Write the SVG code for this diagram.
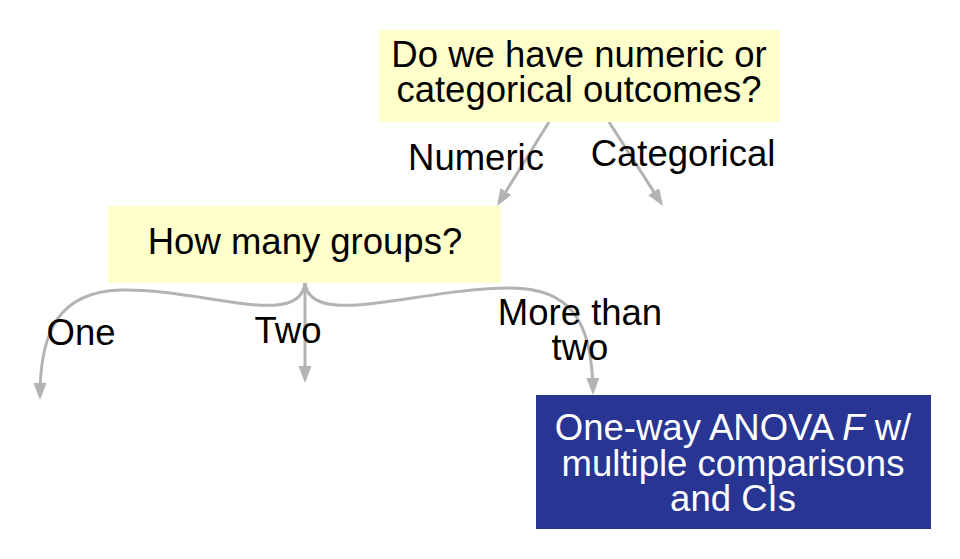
<svg xmlns="http://www.w3.org/2000/svg" width="960" height="559" viewBox="0 0 960 559">
<defs>
<style>
text{font-family:"Liberation Sans",Arial,sans-serif;font-size:36.5px;fill:#000;text-anchor:middle}
.q{fill:#ffffcc}
.r{fill:#283593}
.w{fill:#fff}
.c{fill:none;stroke:#b3b3b3;stroke-width:3}
</style>
<marker id="ah" markerUnits="userSpaceOnUse" markerWidth="18" markerHeight="14" refX="13" refY="6.5" orient="auto">
<path d="M0,0 L17,6.5 L0,13 z" fill="#b3b3b3"/>
</marker>
</defs>
<rect width="960" height="559" fill="#fff"/>
<g id="connectors">
<line class="c" x1="549" y1="122" x2="499.1" y2="202.6" marker-end="url(#ah)"/>
<line class="c" x1="609" y1="122" x2="660.8" y2="202.6" marker-end="url(#ah)"/>
<path class="c" d="M305,283 C300,330 200,288 120,290 C60,292 40,330 40,396" marker-end="url(#ah)"/>
<line class="c" x1="305" y1="283" x2="305" y2="379" marker-end="url(#ah)"/>
<path class="c" d="M305,283 C310,330 420,288 510,288 C570,288 592,320 593,391" marker-end="url(#ah)"/>
<text x="476" y="170">Numeric</text>
<text x="683" y="166">Categorical</text>
<text x="81" y="345">One</text>
<text x="288" y="343">Two</text>
<text x="580" y="325">More than</text>
<text x="580" y="360">two</text>
</g>
<g id="n1">
<rect class="q" x="379" y="30" width="401" height="92"/>
<text x="579" y="67">Do we have numeric or</text>
<text x="579" y="102">categorical outcomes?</text>
</g>
<g id="n2">
<rect class="q" x="108" y="206" width="393" height="77"/>
<text x="305" y="254">How many groups?</text>
</g>
<g id="n3">
<rect class="r" x="536" y="395" width="395" height="134"/>
<text class="w" x="733" y="440">One-way ANOVA <tspan font-style="italic">F</tspan> w/</text>
<text class="w" x="733" y="476">multiple comparisons</text>
<text class="w" x="733" y="511">and CIs</text>
</g>
</svg>
